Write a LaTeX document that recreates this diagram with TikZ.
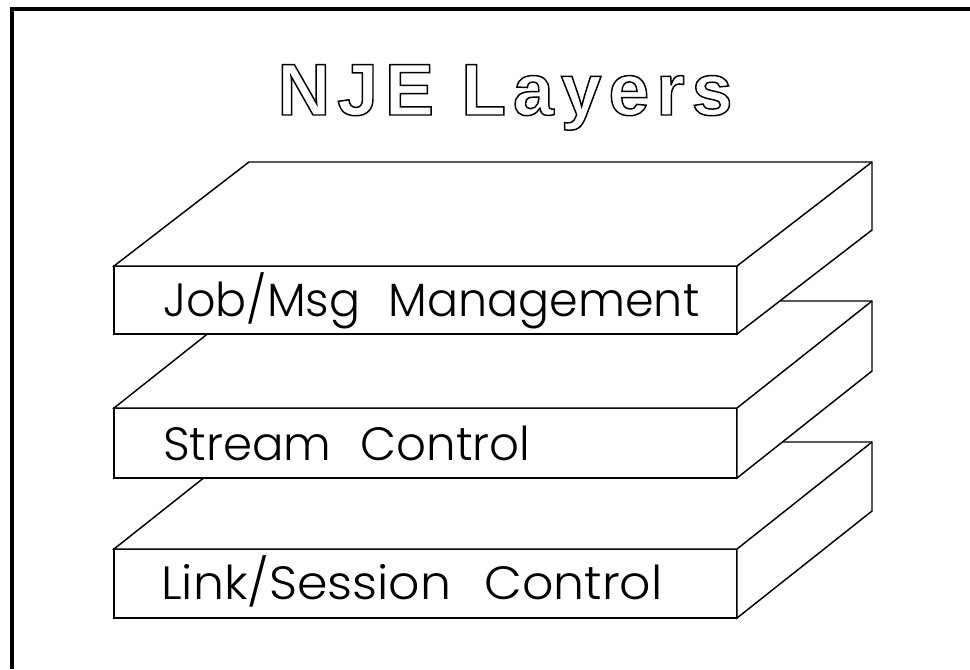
\documentclass[tikz,border=0pt]{standalone}
\usepackage{fontspec}
\setmainfont{Liberation Sans}
\newfontfamily\titlefont{Liberation Sans}[LetterSpace=9.5]
\newfontfamily\lblfont{Poppins Light}
\newcommand{\outlinetext}[1]{\special{pdf:literal direct 1 Tr 1.1 w}#1\special{pdf:literal direct 0 Tr 0.4 w}}
\tikzset{
  edge/.style={line width=1.1pt, line join=miter},
  face/.style={edge, draw=black, fill=white, inner sep=0pt, outer sep=0pt, minimum width=467.25pt, anchor=north west},
  topside/.style={edge, draw=black, fill=white},
  lbl/.style={anchor=base west, inner sep=0pt, font=\lblfont\fontsize{35}{40}\selectfont},
  frame/.style={line width=2.3pt}
}
\begin{document}
\begin{tikzpicture}[x=0.75pt, y=-0.75pt]
\useasboundingbox (0,0) rectangle (970,669);
% frame
\draw[frame] (12,669) -- (12,9) -- (970,9);
% title
\node[anchor=base, inner sep=0pt, font=\titlefont\bfseries\fontsize{55}{60}\selectfont] (title) at (505,115) {\outlinetext{NJE Layers}};
% slab 3 (bottom)
\node[face, minimum height=51.75pt] (f3) at (114,549) {};
\filldraw[topside] (f3.north west) -- ++(135,-107) -- ++(623,0) -- ++(0,69) -- (f3.south east) -- (f3.north east) -- cycle;
\draw[edge] (f3.north east) -- ++(135,-107);
\node[lbl] (t3) at (161,599) {\scalebox{1.05}[1]{Link/Session\hspace{0.4em} Control}};
% slab 2
\node[face, minimum height=52.5pt] (f2) at (114,408) {};
\filldraw[topside] (f2.north west) -- ++(135,-107) -- ++(623,0) -- ++(0,70) -- (f2.south east) -- (f2.north east) -- cycle;
\draw[edge] (f2.north east) -- ++(135,-107);
\node[lbl] (t2) at (163,460) {Stream\hspace{0.35em} Control};
% slab 1 (top)
\node[face, minimum height=51pt] (f1) at (114,266) {};
\filldraw[topside] (f1.north west) -- ++(135,-104) -- ++(623,0) -- ++(0,68) -- (f1.south east) -- (f1.north east) -- cycle;
\draw[edge] (f1.north east) -- ++(135,-104);
\node[lbl] (t1) at (163,316) {\scalebox{0.985}[1]{Job/Msg\hspace{0.35em} Management}};
\end{tikzpicture}
\end{document}
